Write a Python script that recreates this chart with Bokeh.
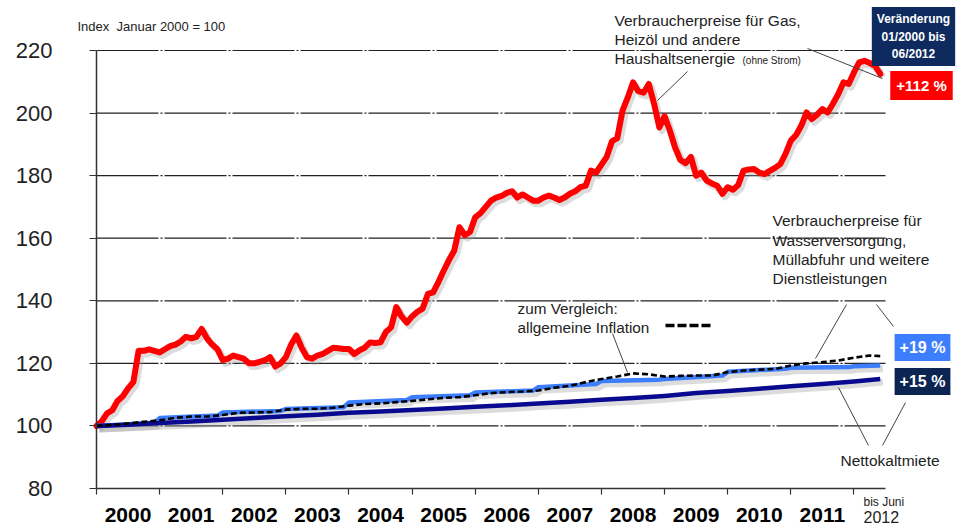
from bokeh.plotting import figure
from bokeh.models import Range1d, FixedTicker, Label, Arrow, LinearAxis
from bokeh.embed import file_html
from bokeh.resources import INLINE

# ---------------- data (index, Jan 2000 = 100) ----------------
year_labels = [str(y) for y in range(2000, 2012)]
year_ticks = [12 * i for i in range(13)]          # month index of Jan of each year
year_mids = [12 * i + 6 for i in range(12)]       # label positions (mid-year)
y_ticks = [80, 100, 120, 140, 160, 180, 200, 220]

# Verbraucherpreise Gas, Heizoel, Haushaltsenergie (monthly, Jan 2000 .. Jun 2012)
gas_months = list(range(150))
gas = [
    100, 101.5, 104, 105, 108, 109.5, 112, 114, 124, 124, 124.5, 124,
    123.5, 124.5, 125.5, 126, 127, 128.5, 128, 128.5, 131, 128, 126, 124.5,
    121, 121.5, 122.5, 122, 121.5, 120, 120, 120.5, 121, 122, 119, 120,
    122, 126, 128.9, 125, 122, 121.5, 122.5, 123, 124, 125, 124.8, 124.6,
    124.6, 123, 124.2, 125, 126.7, 126.5, 126.7, 130, 131.5, 138, 135, 133,
    135, 136.5, 137.5, 142.2, 142.7, 146, 149.6, 153, 156, 163.5, 161, 162,
    166.7, 168, 170, 172, 173, 173.5, 174.5, 175, 173, 174, 173, 172,
    172, 173, 173.6, 173, 172.2, 173, 174.2, 175, 176.3, 176.8, 181.6, 181,
    183.5, 186, 191, 192, 200.8, 205, 209.8, 207, 206.5, 209.3, 203, 195.4,
    199, 194.4, 189, 185, 184, 186, 180, 181, 178.4, 177.5, 176.8, 174.2,
    176.3, 175.5, 177, 181.6, 182, 182.1, 181, 180.5, 181.5, 182.5, 183.7, 187,
    191.2, 193, 196, 200.2, 198.1, 199.5, 201.3, 200.2, 203, 206, 209.8, 209.3,
    213, 216.2, 216.7, 216, 215.1, 212.5,
]

# Wasserversorgung, Muellabfuhr, weitere Dienstleistungen
water_months = [0, 6, 11, 12, 23, 24, 35, 36, 47, 48, 59, 60, 71, 72, 83, 84,
                95, 96, 107, 108, 119, 120, 131, 132, 143, 144, 149]
water = [100, 100.5, 101, 102.5, 103.3, 104.3, 104.8, 105.4, 106, 107.5, 108.3,
         109.2, 109.8, 110.7, 111.3, 112.4, 113.4, 114.4, 114.8, 115, 116.1,
         117.3, 118.3, 118.6, 118.8, 119.1, 119.3]

# Nettokaltmiete
rent_months = [0, 6, 12, 18, 24, 30, 36, 42, 48, 54, 60, 66, 72, 78, 84, 90,
               96, 102, 108, 114, 120, 126, 132, 138, 144, 149]
rent = [100, 100.4, 100.9, 101.4, 102, 102.5, 103.1, 103.6, 104.2, 104.6, 105.1,
        105.6, 106.1, 106.6, 107.2, 107.7, 108.4, 108.9, 109.6, 110.5, 111.2,
        111.9, 112.7, 113.4, 114.2, 115]

# allgemeine Inflation (Verbraucherpreisindex)
cpi_months = [0, 3, 6, 9, 12, 15, 18, 21, 24, 27, 30, 33, 36, 39, 42, 45, 48, 51,
              54, 57, 60, 63, 66, 69, 72, 75, 78, 81, 84, 87, 90, 93, 96, 99, 102,
              105, 108, 111, 114, 117, 120, 123, 126, 129, 132, 135, 138, 141, 144,
              147, 149]
cpi = [100, 100.3, 100.8, 101.3, 101.8, 102.6, 103, 103, 103.5, 104.2, 104.3,
       104.4, 105.2, 105.5, 105.5, 105.8, 106.5, 107, 107.2, 107.6, 108, 108.5,
       109, 109.2, 109.8, 110.5, 110.8, 111, 111.3, 112.2, 112.8, 114, 115, 115.8,
       116.8, 116.5, 115.8, 116, 116.1, 116.1, 117.2, 117.7, 118, 118.2, 119.3,
       120, 120.4, 120.9, 121.8, 122.5, 122.3]

# ---------------- layout ----------------
W, H = 956, 529
PL, PR, PT, PB = 96, 885, 50, 488   # plot-area edges in page px
XMAX = 150
YMIN, YMAX = 80, 220
FONT = "Liberation Sans"
TXT = "#222222"


def X(px):   # page px -> data x
    return (px - PL) * XMAX / (PR - PL)


def Y(py):   # page px -> data y
    return YMAX - (py - PT) * (YMAX - YMIN) / (PB - PT)


p = figure(width=W, height=H, x_range=Range1d(X(0), X(W)), y_range=Range1d(Y(H), Y(0)),
           output_backend="svg", toolbar_location=None, x_axis_location=None,
           y_axis_location=None, min_border=0)
p.outline_line_color = None
p.background_fill_color = "white"
p.border_fill_color = "white"
p.xgrid.visible = False
p.ygrid.visible = False

# axes fixed at the plot-area edges
xax = LinearAxis(fixed_location=YMIN, bounds=(0, XMAX),
                 ticker=FixedTicker(ticks=year_mids, minor_ticks=year_ticks),
                 major_label_overrides={m: lab for m, lab in zip(year_mids, year_labels)})
xax.major_tick_out = 0
xax.major_tick_in = 0
xax.minor_tick_out = 6
xax.minor_tick_in = 0
xax.minor_tick_line_color = "#333333"
xax.minor_tick_line_width = 1.2
xax.axis_line_color = "#333333"
xax.axis_line_width = 1.5
xax.major_label_text_font = FONT
xax.major_label_text_font_size = "21px"
xax.major_label_text_font_style = "bold"
xax.major_label_text_color = "black"
xax.major_label_standoff = 13
p.add_layout(xax, "below")

yax = LinearAxis(fixed_location=0, bounds=(YMIN, YMAX), ticker=FixedTicker(ticks=y_ticks))
yax.major_label_text_font = FONT
yax.major_label_text_font_size = "22px"
yax.major_label_text_color = TXT
yax.major_label_standoff = 37
yax.major_tick_out = 7
yax.major_tick_in = 0
yax.minor_tick_line_color = None
yax.axis_line_color = "#333333"
yax.axis_line_width = 1.5
yax.major_tick_line_color = "#333333"
yax.major_tick_line_width = 1.2
p.add_layout(yax, "left")

# horizontal grid lines across the plot area
grid_y = y_ticks[1:]
p.segment(x0=[0] * len(grid_y), x1=[XMAX] * len(grid_y), y0=grid_y, y1=grid_y,
          line_color="#222222", line_width=1.2, line_dash="62 2 2 2")

# shadows
for xs, ys in [(water_months, water), (rent_months, rent), (gas_months, gas)]:
    p.line([x + 0.5 for x in xs], [y - 1.0 for y in ys], line_color="#9a9a9a",
           line_alpha=0.35, line_width=7, line_join="round")

# series
p.line(gas_months, gas, line_color="#ff0000", line_width=6, line_join="round", line_cap="round")
p.line(water_months, water, line_color="#3d7eff", line_width=4.5, line_join="round")
p.line(rent_months, rent, line_color="#0a0a90", line_width=4.5, line_join="round")
p.line(cpi_months, cpi, line_color="black", line_width=2.6, line_dash="6 3")

# legend sample for dashed line
p.line([X(665), X(710)], [Y(325), Y(325)], line_color="black", line_width=3.5, line_dash="9 3")


def text(t, px, py, size="15.5px", bold=False, color=TXT, align="left", baseline="middle"):
    p.add_layout(Label(x=X(px), y=Y(py), text=t, text_font=FONT, text_font_size=size,
                       text_font_style="bold" if bold else "normal", text_color=color,
                       text_align=align, text_baseline=baseline))


def leader(x0, y0, x1, y1):
    p.add_layout(Arrow(end=None, start=None, x_start=X(x0), y_start=Y(y0),
                       x_end=X(x1), y_end=Y(y1), line_color="#444444", line_width=1))


def box(t, cx, cy, bg, size="15px", pad=6):
    p.add_layout(Label(x=X(cx), y=Y(cy), text=t, text_font=FONT, text_font_size=size,
                       text_font_style="bold", text_color="white", text_align="center",
                       text_baseline="middle", background_fill_color=bg,
                       padding=pad, text_line_height=1.25))


text("Index\u00a0 Januar 2000 = 100", 77, 26, size="13px")

text("Verbraucherpreise für Gas,", 614, 20)
text("Heizöl und andere", 614, 39)
text("Haushaltsenergie", 614, 58)
text("(ohne Strom)", 742, 60, size="10px")
leader(807, 48, 882, 78)
leader(687, 71, 657, 100)

text("Verbraucherpreise für", 772, 220)
text("Wasserversorgung,", 772, 240)
text("Müllabfuhr und weitere", 772, 259)
text("Dienstleistungen", 772, 278)
leader(846, 304, 815, 358)
leader(876, 304, 893, 326)

text("zum Vergleich:", 517, 308, size="15.3px")
text("allgemeine Inflation", 517, 327, size="15.3px")
leader(612, 333, 627, 372)

text("Nettokaltmiete", 840, 460)
leader(868, 445, 838, 387)
leader(882, 445, 905, 402)

box("Veränderung\n01/2000 bis\n06/2012", 913, 36, "#0e2a5e", size="12px", pad=5)
box("+112 %", 921, 85, "#ff0000", size="15px", pad=6)
box("+19 %", 922, 347, "#3d7eff", size="16px", pad=5)
box("+15 %", 922, 381, "#0c2452", size="16px", pad=5)

text("bis Juni", 863, 501, size="12px")
text("2012", 863, 516, size="16px")

open("out.html", "w").write(file_html(p, INLINE))
